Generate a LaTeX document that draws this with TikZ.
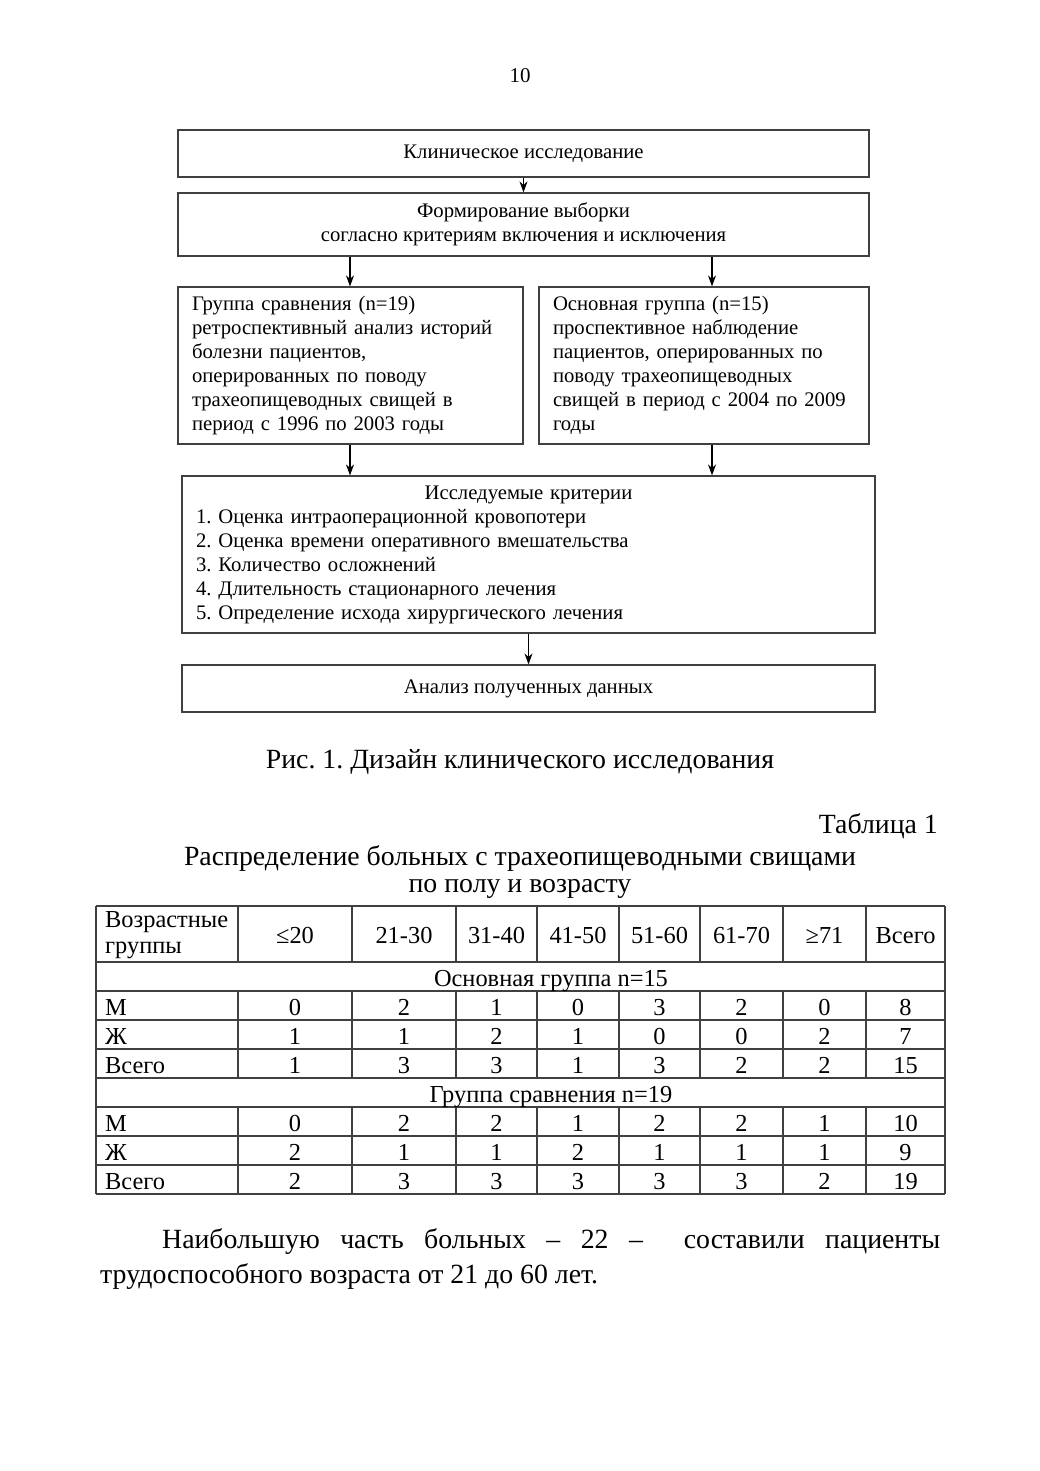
\documentclass[tikz,border=0pt]{standalone}
\usepackage{fontspec}
\setmainfont{Liberation Serif}
\usetikzlibrary{arrows.meta}
\frenchspacing
\newcommand\mytabrow[4]{%
  \node[tc, anchor=west] (#1-l) at (105,#2) {#3};
  \foreach \v [count=\c] in {#4} {
    \pgfmathsetmacro\cx{{295,404,496.5,578,659.5,741.5,824.5,905.5}[\c-1]}
    \node[tc] (#1-\c) at (\cx,#2) {\v};
  }}
\begin{document}
\begin{tikzpicture}[x=1pt,y=-1pt,
  box/.style={draw=black!75, line width=1.2pt, inner sep=0pt, font=\fontsize{20.7}{24}\selectfont},
  lbox/.style={box, inner xsep=14pt, align=left, minimum height=157pt},
  arr/.style={draw=black, line width=1.2pt, -{Stealth[length=11pt,width=8pt]}},
  tc0/.style={inner sep=0pt, font=\fontsize{24.4}{26}\selectfont},
  tc/.style={tc0, text height=16pt, text depth=0pt},
  tline/.style={draw=black!75, line width=1.3pt},
  big/.style={inner sep=0pt, font=\fontsize{27.8}{31}\selectfont}
]
\path[use as bounding box, fill=white] (0,0) rectangle (1039,1471);

\node[inner sep=0pt, font=\fontsize{21}{24}\selectfont] (pnum) at (520,76) {10};

% flowchart
\node[box, minimum width=691pt, minimum height=47pt] (b1) at (523.5,153.5) {Клиническое исследование};
\node[box, minimum width=691pt, minimum height=63pt, align=center] (b2) at (523.5,224.5)
  {Формирование выборки\\согласно критериям включения и исключения};
\node[lbox, text width=317pt] (gL) at (350.5,365.5)
  {Группа сравнения (n=19)\\ретроспективный анализ историй\\болезни пациентов,\\оперированных по поводу\\трахеопищеводных свищей в\\период с 1996 по 2003 годы};
\node[lbox, text width=302pt] (gR) at (704,365.5)
  {Основная группа (n=15)\\проспективное наблюдение\\пациентов, оперированных по\\поводу трахеопищеводных\\свищей в период с 2004 по 2009\\годы};
\node[lbox, text width=665pt] (b4) at (528.5,554.5)
  {\makebox[\linewidth][c]{Исследуемые критерии}\\
   1. Оценка интраоперационной кровопотери\\
   2. Оценка времени оперативного вмешательства\\
   3. Количество осложнений\\
   4. Длительность стационарного лечения\\
   5. Определение исхода хирургического лечения};
\node[box, minimum width=693pt, minimum height=47pt] (b5) at (528.5,688.5) {Анализ полученных данных};

\coordinate (aL) at (350,0);
\coordinate (aR) at (712,0);
\draw[arr] (b1.south) -- (b2.north);
\draw[arr] (b2.south -| aL) -- (gL.north -| aL);
\draw[arr] (b2.south -| aR) -- (gR.north -| aR);
\draw[arr] (gL.south -| aL) -- (b4.north -| aL);
\draw[arr] (gR.south -| aR) -- (b4.north -| aR);
\draw[arr] (b4.south) -- (b5.north);

\node[big] (cap) at (520,762) {Рис. 1. Дизайн клинического исследования};

% table title
\node[big, anchor=east] (tnum) at (938,826) {Таблица 1};
\node[big] (tt1) at (520,858) {Распределение больных с трахеопищеводными свищами};
\node[big] (tt2) at (520,889) {по полу и возрасту};

% table lines
\foreach \yy in {906,962,991,1020,1049,1078,1107,1136,1165,1194}
  \draw[tline] (96,\yy) -- (945,\yy);
\draw[tline] (96,906) -- (96,1194);
\draw[tline] (945,906) -- (945,1194);
\foreach \xx in {238,352,456,537,619,700,783,866} {
  \draw[tline] (\xx,906) -- (\xx,962);
  \draw[tline] (\xx,991) -- (\xx,1078);
  \draw[tline] (\xx,1107) -- (\xx,1194);
}
% header
\node[tc0, anchor=west, align=left] (h0) at (105,935) {Возрастные\\группы};
\foreach \t [count=\c] in {≤20,21-30,31-40,41-50,51-60,61-70,≥71,Всего} {
  \pgfmathsetmacro\cx{{295,404,496.5,578,659.5,741.5,824.5,905.5}[\c-1]}
  \node[tc] (h\c) at (\cx,935) {\t};
}
\node[tc] (s1) at (551,978) {Основная группа n=15};
\mytabrow{m1}{1007}{М}{0,2,1,0,3,2,0,8}
\mytabrow{f1}{1036}{Ж}{1,1,2,1,0,0,2,7}
\mytabrow{t1}{1065}{Всего}{1,3,3,1,3,2,2,15}
\node[tc] (s2) at (551,1094) {Группа сравнения n=19};
\mytabrow{m2}{1123}{М}{0,2,2,1,2,2,1,10}
\mytabrow{f2}{1152}{Ж}{2,1,1,2,1,1,1,9}
\mytabrow{t2}{1181}{Всего}{2,3,3,3,3,3,2,19}

% paragraph
\node[inner sep=0pt, anchor=north west, text width=840pt, align=justify,
      font=\fontsize{27.8}{35}\selectfont] (par) at (100,1228)
  {\hspace*{62pt}Наибольшую часть больных – 22 –\ \ составили пациенты\linebreak
   трудоспособного возраста от 21 до 60 лет.};
\end{tikzpicture}
\end{document}
